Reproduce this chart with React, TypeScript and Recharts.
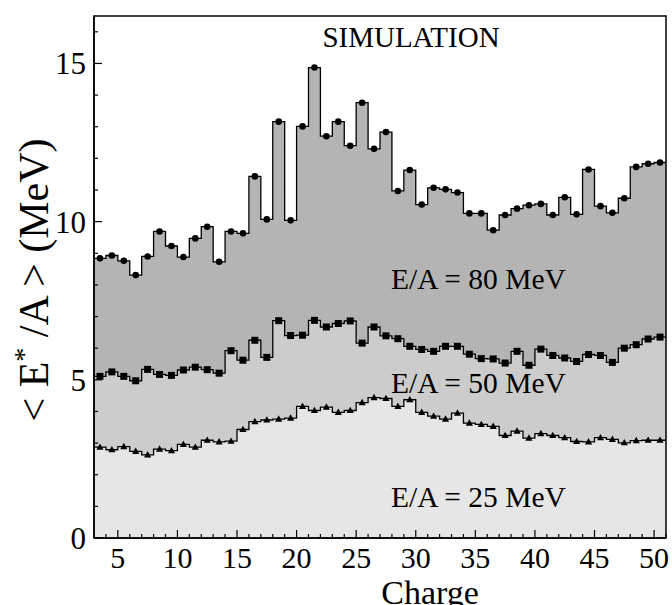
import React from "react";
import { Area, ComposedChart, Line, ReferenceArea, XAxis, YAxis } from "recharts";

// charge bins: bin Z covers [Z, Z+1]
const charges = [
  3, 4, 5, 6, 7, 8, 9, 10, 11, 12, 13, 14, 15, 16, 17, 18, 19, 20, 21, 22, 23, 24, 25, 26,
  27, 28, 29, 30, 31, 32, 33, 34, 35, 36, 37, 38, 39, 40, 41, 42, 43, 44, 45, 46, 47, 48, 49, 50,
];
const e80 = [
  8.84, 8.93, 8.76, 8.31, 8.9, 9.69, 9.23, 8.88, 9.47, 9.84, 8.73, 9.69, 9.63, 11.43, 10.07, 13.16,
  10.04, 13.01, 14.87, 12.7, 13.16, 12.4, 13.76, 12.3, 12.83, 10.97, 11.63, 10.54, 11.07, 11.02,
  10.92, 10.26, 10.26, 9.73, 10.21, 10.41, 10.52, 10.56, 10.21, 10.77, 10.23, 11.65, 10.49, 10.28,
  10.74, 11.73, 11.83, 11.87,
];
const e50 = [
  5.11, 5.25, 5.11, 4.97, 5.33, 5.17, 5.14, 5.31, 5.4, 5.32, 5.21, 5.92, 5.62, 6.25, 5.71, 6.87,
  6.4, 6.41, 6.88, 6.67, 6.78, 6.86, 6.16, 6.67, 6.39, 6.3, 6.06, 5.96, 5.9, 6.06, 6.06, 5.81,
  5.67, 5.66, 5.53, 5.9, 5.46, 5.97, 5.77, 5.69, 5.58, 5.8, 5.77, 5.55, 6.0, 6.11, 6.29, 6.35,
];
const e25 = [
  2.87, 2.79, 2.89, 2.74, 2.63, 2.81, 2.76, 2.96, 2.87, 3.09, 3.04, 3.06, 3.43, 3.68, 3.73, 3.76,
  3.79, 4.16, 4.03, 4.14, 3.97, 4.03, 4.28, 4.44, 4.41, 4.16, 4.37, 3.97, 3.85, 3.76, 3.95, 3.63,
  3.59, 3.53, 3.24, 3.38, 3.16, 3.3, 3.24, 3.17, 3.05, 3.04, 3.17, 3.12, 3.01, 3.08, 3.09, 3.09,
];

const xTicks = [
  3, 4, 5, 6, 7, 8, 9, 10, 11, 12, 13, 14, 15, 16, 17, 18, 19, 20, 21, 22, 23, 24, 25, 26, 27,
  28, 29, 30, 31, 32, 33, 34, 35, 36, 37, 38, 39, 40, 41, 42, 43, 44, 45, 46, 47, 48, 49, 50, 51,
];
const xLabels = [5, 10, 15, 20, 25, 30, 35, 40, 45, 50];
const yTicks = [0, 1, 2, 3, 4, 5, 6, 7, 8, 9, 10, 11, 12, 13, 14, 15, 16];
const yLabels = [0, 5, 10, 15];

const last = charges.length - 1;
const histData = [
  ...charges.map((z, i) => ({ x: z, v80: e80[i], v50: e50[i], v25: e25[i] })),
  { x: charges[last] + 1, v80: e80[last], v50: e50[last], v25: e25[last] },
];
const pointData = charges.map((z, i) => ({ x: z + 0.5, v80: e80[i], v50: e50[i], v25: e25[i] }));

const font = "'Liberation Serif', 'Times New Roman', serif";

const XTick = (props: any) => {
  const { x, y, payload } = props;
  const major = xLabels.includes(payload.value);
  return (
    <g>
      <line x1={x} x2={x} y1={y} y2={y - (major ? 8 : 4)} stroke="#000" strokeWidth={1.2} />
      {major && (
        <text x={x} y={y + 30} textAnchor="middle" fontSize={30} fontFamily={font} fill="#000">
          {payload.value}
        </text>
      )}
    </g>
  );
};

const YTick = (props: any) => {
  const { x, y, payload } = props;
  const major = yLabels.includes(payload.value);
  return (
    <g>
      <line x1={x} x2={x + (major ? 8 : 4)} y1={y} y2={y} stroke="#000" strokeWidth={1.2} />
      {major && (
        <text x={x - 8} y={y + 11} textAnchor="end" fontSize={31} fontFamily={font} fill="#000">
          {payload.value}
        </text>
      )}
    </g>
  );
};

const circleDot = (p: any) => <circle key={p.key} cx={p.cx} cy={p.cy} r={3.3} fill="#000" />;
const squareDot = (p: any) => (
  <rect key={p.key} x={p.cx - 3.5} y={p.cy - 3.5} width={7} height={7} fill="#000" />
);
const triangleDot = (p: any) => (
  <path
    key={p.key}
    d={`M${p.cx},${p.cy - 3.8} L${p.cx + 3.6},${p.cy + 2.6} L${p.cx - 3.6},${p.cy + 2.6} Z`}
    fill="#000"
  />
);

export default function App() {
  return (
    <div style={{ position: "absolute", left: 0, top: 0, width: 672, height: 605, background: "#fff" }}>
      <ComposedChart width={672} height={605} data={histData} margin={{ top: 16, right: 6, bottom: 0, left: 0 }}>
        <XAxis
          dataKey="x"
          type="number"
          domain={[3, 51]}
          ticks={xTicks}
          interval={0}
          height={67}
          tickSize={0}
          tickMargin={0}
          tickLine={false}
          axisLine={{ stroke: "#000", strokeWidth: 1.5 }}
          tick={<XTick />}
          allowDataOverflow
        />
        <YAxis
          type="number"
          domain={[0, 16.5]}
          ticks={yTicks}
          interval={0}
          width={94}
          tickSize={0}
          tickMargin={0}
          tickLine={false}
          axisLine={{ stroke: "#000", strokeWidth: 1.5 }}
          tick={<YTick />}
          allowDataOverflow
        />
        <Area type="stepAfter" dataKey="v80" fill="#b4b4b4" fillOpacity={1} stroke="#000" strokeWidth={1.3} isAnimationActive={false} />
        <Area type="stepAfter" dataKey="v50" fill="#cccccc" fillOpacity={1} stroke="#000" strokeWidth={1.3} isAnimationActive={false} />
        <Area type="stepAfter" dataKey="v25" fill="#e6e6e6" fillOpacity={1} stroke="#000" strokeWidth={1.3} isAnimationActive={false} />
        <Line data={pointData} dataKey="v80" stroke="none" dot={circleDot} activeDot={false} isAnimationActive={false} />
        <Line data={pointData} dataKey="v50" stroke="none" dot={squareDot} activeDot={false} isAnimationActive={false} />
        <Line data={pointData} dataKey="v25" stroke="none" dot={triangleDot} activeDot={false} isAnimationActive={false} />
        <ReferenceArea x1={3} x2={51} y1={0} y2={16.5} fill="none" stroke="#000" strokeWidth={1.5} ifOverflow="visible" />
      </ComposedChart>
      <svg width={672} height={605} style={{ position: "absolute", left: 0, top: 0, pointerEvents: "none" }}>
        <g fontFamily={font} fill="#000">
          <text x={411} y={47} textAnchor="middle" fontSize={29}>SIMULATION</text>
          <text x={391} y={289} fontSize={29.5}>E/A = 80 MeV</text>
          <text x={391} y={393} fontSize={29.5}>E/A = 50 MeV</text>
          <text x={391} y={507} fontSize={29.5}>E/A = 25 MeV</text>
          <text x={430} y={604} textAnchor="middle" fontSize={34}>Charge</text>
          <text transform="translate(48, 280) rotate(-90)" textAnchor="middle" fontSize={42}>
            {"< E"}
            <tspan dy={-15} fontSize={28}>*</tspan>
            <tspan dy={15}>{" /A > (MeV)"}</tspan>
          </text>
        </g>
      </svg>
    </div>
  );
}
